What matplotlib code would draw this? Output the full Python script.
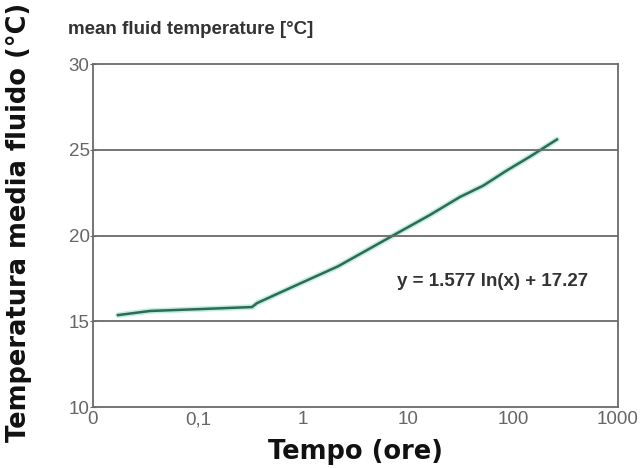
import numpy as np
import matplotlib
matplotlib.use("Agg")
import matplotlib.pyplot as plt

# Data (time in hours, mean fluid temperature in °C)
hours = [0.0173, 0.0349, 0.1045, 0.327, 0.365, 0.935, 2.15, 7.2, 16.2,
         31.3, 51.8, 87.7, 145, 262]
temp = [15.36, 15.60, 15.71, 15.83, 16.06, 17.2, 18.2, 20.0, 21.2,
        22.25, 22.9, 23.8, 24.6, 25.6]

xticks = [0.01, 0.1, 1, 10, 100, 1000]
xticklabels = ["0", "0,1", "1", "10", "100", "1000"]
yticks = [10, 15, 20, 25, 30]

fig = plt.figure(figsize=(6.44, 4.68), dpi=100)
ax = fig.add_axes([0.1444, 0.1303, 0.8152, 0.7329])

# faint halo + main line
ax.plot(hours, temp, color="#bfeee0", lw=4, solid_capstyle="round")
ax.plot(hours, temp, color="#2f6b52", lw=1.8)

ax.set_xscale("log")
ax.set_xlim(0.01, 1000)
ax.set_ylim(10, 30)
ax.set_xticks(xticks)
ax.set_xticklabels(xticklabels)
ax.minorticks_off()
ax.set_yticks(yticks)

for y in [15, 20, 25]:
    ax.axhline(y, color="#6a6a6a", lw=1.3)

for s in ax.spines.values():
    s.set_color("#6a6a6a")
    s.set_linewidth(1.3)

ax.tick_params(axis="x", length=0, pad=3, labelsize=13.5, labelcolor="#666666")
ax.tick_params(axis="y", direction="inout", length=5, pad=0, labelsize=13.5,
               labelcolor="#666666", color="#6a6a6a")
for lab in ax.get_xticklabels() + ax.get_yticklabels():
    lab.set_family("Liberation Sans")

ax.text(7.86, 17.3, "y = 1.577 ln(x) + 17.27", fontsize=13.5, fontweight="bold",
        family="Liberation Sans", color="#333333", ha="left", va="center")

fig.text(68 / 644, 1 - 30 / 468, "mean fluid temperature [°C]", fontsize=13.5,
         fontweight="bold", family="Liberation Sans", color="#333333",
         ha="left", va="center")

fig.text(19 / 644, 1 - 222 / 468, "Temperatura media fluido (°C)", rotation=90,
         fontsize=18.5, fontweight="bold", color="#111111",
         ha="center", va="center")
fig.text(355 / 644, 1 - 452 / 468, "Tempo (ore)", fontsize=18.5,
         fontweight="bold", color="#111111", ha="center", va="center")

fig.savefig("out.png", dpi=100)
